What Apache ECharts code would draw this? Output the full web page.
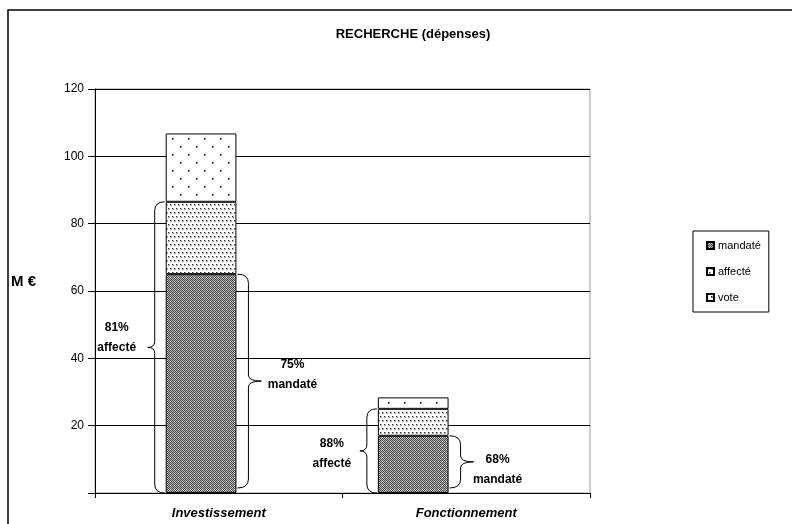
<!DOCTYPE html>
<html>
<head>
<meta charset="utf-8">
<script src="https://cdn.jsdelivr.net/npm/echarts@6/dist/echarts.min.js"></script>
<style>
  html, body { margin: 0; padding: 0; background: #fff; }
  #chart { width: 792px; height: 524px; }
</style>
</head>
<body>
<div id="chart"></div>
<script>
// ---- data ----
const categories = ['Investissement', 'Fonctionnement'];
const mandateTotal = [65.0, 17.0];   // mandaté (M€)
const affecteTotal = [86.5, 25.0];   // affecté (M€)
const voteTotal    = [106.8, 28.4];  // voté (M€)
const seriesNames  = ['mandaté', 'affecté', 'vote'];
const braceText = ['81%\naffecté', '75%\nmandaté', '88%\naffecté', '68%\nmandaté'];
const braceCat  = [0, 0, 1, 1];
const braceKind = ['affecte', 'mandate', 'affecte', 'mandate'];

// ---- layout / style ----
const nSlots = 7;
const slotOf = [1, 4];
const labelDx = [-31, 31, -28, 24];
const labelDy = [-10, -6, 3, 8];

function tile(w, h, draw) {
  const c = document.createElement('canvas');
  c.width = w; c.height = h;
  const ctx = c.getContext('2d');
  draw(ctx);
  return c;
}
const patMandate = tile(4, 4, ctx => {
  ctx.fillStyle = '#b8b8b8'; ctx.fillRect(0, 0, 4, 4);
  ctx.fillStyle = '#4a4a4a';
  for (let y = 0; y < 4; y++) for (let x = 0; x < 4; x++) if ((x + y) % 2 === 0) ctx.fillRect(x, y, 1, 1);
  ctx.fillStyle = '#ffffff'; ctx.fillRect(2, 1, 1, 1);
});
const patAffecte = tile(8, 8, ctx => {
  ctx.fillStyle = '#ffffff'; ctx.fillRect(0, 0, 8, 8);
  [[0, 0], [4, 0], [2, 4], [6, 4]].forEach(([x, y]) => {
    ctx.fillStyle = '#a8a8a8'; ctx.fillRect(x, y, 2, 2);
    ctx.fillStyle = '#303030'; ctx.fillRect(x, y, 1, 1);
  });
});
const patVote = tile(16, 16, ctx => {
  ctx.fillStyle = '#ffffff'; ctx.fillRect(0, 0, 16, 16);
  [[4, 2], [12, 10]].forEach(([x, y]) => {
    ctx.fillStyle = '#8a8a8a'; ctx.fillRect(x, y, 2, 2);
    ctx.fillStyle = '#000000'; ctx.fillRect(x, y, 1, 1);
  });
});
const patterns = [patMandate, patAffecte, patVote];

function slotData(values) {
  const arr = new Array(nSlots).fill('-');
  values.forEach((v, i) => { arr[slotOf[i]] = v; });
  return arr;
}
const segMandate = mandateTotal.map(v => v);
const segAffecte = affecteTotal.map((v, i) => +(v - mandateTotal[i]).toFixed(2));
const segVote    = voteTotal.map((v, i) => +(v - affecteTotal[i]).toFixed(2));
const segs = [segMandate, segAffecte, segVote];

const barSeries = seriesNames.map((name, k) => ({
  name: name,
  type: 'bar',
  stack: 'total',
  xAxisIndex: 1,
  yAxisIndex: 0,
  barCategoryGap: '0%',
  data: slotData(segs[k]),
  itemStyle: {
    color: { image: patterns[k], repeat: 'repeat' },
    borderColor: '#000',
    borderWidth: 1
  },
  emphasis: { disabled: true },
  z: 3
}));

const braceData = braceCat.map((c, i) => [
  slotOf[c], 0, braceKind[i] === 'affecte' ? affecteTotal[c] : mandateTotal[c]
]);

function renderBrace(params, api) {
  const i = params.dataIndex;
  const slot = api.value(0), lo = api.value(1), hi = api.value(2);
  const pLo = api.coord([slot, lo]);
  const pHi = api.coord([slot, hi]);
  const w = api.size([1, 0])[0];
  const cx = pLo[0];
  const left = braceKind[i] === 'affecte';
  const yt = pHi[1];
  const yb = left ? pLo[1] : pLo[1] - 5;
  const ym = (yt + yb) / 2;
  const r = 9, tr = 6;
  let xe, xv, xt;
  if (left) { xe = cx - w / 2 - 1; xv = cx - w / 2 - 11; xt = cx - w / 2 - 18; }
  else { xe = cx + w / 2 + 1; xv = cx + w / 2 + 12; xt = cx + w / 2 + 25; }
  const d = 'M' + xe + ' ' + yt +
    ' Q' + xv + ' ' + yt + ' ' + xv + ' ' + (yt + r) +
    ' L' + xv + ' ' + (ym - tr) +
    ' Q' + xv + ' ' + ym + ' ' + xt + ' ' + ym +
    ' Q' + xv + ' ' + ym + ' ' + xv + ' ' + (ym + tr) +
    ' L' + xv + ' ' + (yb - r) +
    ' Q' + xv + ' ' + yb + ' ' + xe + ' ' + yb;
  return {
    type: 'group',
    children: [
      { type: 'path', shape: { pathData: d }, style: { fill: 'none', stroke: '#000', lineWidth: 1 } },
      { type: 'text', style: {
          text: braceText[i], x: xt + labelDx[i], y: ym + labelDy[i],
          align: 'center', verticalAlign: 'middle',
          fontFamily: 'Arial, "Liberation Sans", sans-serif', fontSize: 12, fontWeight: 'bold',
          lineHeight: 20, fill: '#000'
      } }
    ]
  };
}

const chart = echarts.init(document.getElementById('chart'), null, { renderer: 'canvas' });
chart.setOption({
  animation: false,
  backgroundColor: '#fff',
  textStyle: { fontFamily: 'Arial, "Liberation Sans", sans-serif' },
  title: {
    text: 'RECHERCHE (dépenses)',
    left: 408, top: 23, textAlign: 'center',
    textStyle: { fontSize: 13, fontWeight: 'bold', color: '#000', fontFamily: 'Arial, "Liberation Sans", sans-serif' }
  },
  legend: {
    data: seriesNames,
    orient: 'vertical',
    left: 693, top: 231,
    padding: [9, 8, 9, 13],
    itemGap: 15,
    itemWidth: 7, itemHeight: 7,
    icon: 'rect',
    borderColor: '#000', borderWidth: 1,
    selectedMode: false,
    textStyle: { fontSize: 11, color: '#000', fontFamily: 'Arial, "Liberation Sans", sans-serif', padding: [0, 0, 0, -1] }
  },
  grid: { left: 95, right: 202, top: 89, bottom: 31, show: true, borderColor: '#9a9a9a', borderWidth: 1, backgroundColor: 'transparent' },
  xAxis: [
    {
      type: 'category', data: categories, position: 'bottom',
      axisLine: { show: true, lineStyle: { color: '#000', width: 1 } },
      axisTick: { show: true, length: 5, lineStyle: { color: '#000' } },
      axisLabel: { margin: 14, fontSize: 13, fontWeight: 'bold', fontStyle: 'italic', color: '#000' },
      splitLine: { show: false }
    },
    {
      type: 'category', data: Array.from({ length: nSlots }, (_, i) => 's' + i),
      show: false, position: 'bottom'
    }
  ],
  yAxis: {
    type: 'value', min: 0, max: 120, interval: 20,
    axisLine: { show: true, lineStyle: { color: '#000', width: 1 } },
    axisTick: { show: true, length: 7, lineStyle: { color: '#000' } },
    axisLabel: { fontSize: 12, color: '#000', margin: 11, formatter: v => v === 0 ? '' : String(v) },
    splitLine: { show: true, lineStyle: { color: '#000', width: 1 } }
  },
  graphic: [
    { type: 'rect', shape: { x: 8, y: 10, width: 820, height: 540 }, style: { fill: 'none', stroke: '#000', lineWidth: 1.5 }, silent: true },
    { type: 'text', left: 11, top: 274, style: { text: 'M €', fontSize: 15, fontWeight: 'bold', fill: '#000', fontFamily: 'Arial, "Liberation Sans", sans-serif' } }
  ],
  series: barSeries.concat([{
    type: 'custom',
    xAxisIndex: 1, yAxisIndex: 0,
    renderItem: renderBrace,
    data: braceData,
    encode: { x: 0, y: [1, 2] },
    clip: false,
    silent: true,
    z: 5
  }])
});
</script>
</body>
</html>
